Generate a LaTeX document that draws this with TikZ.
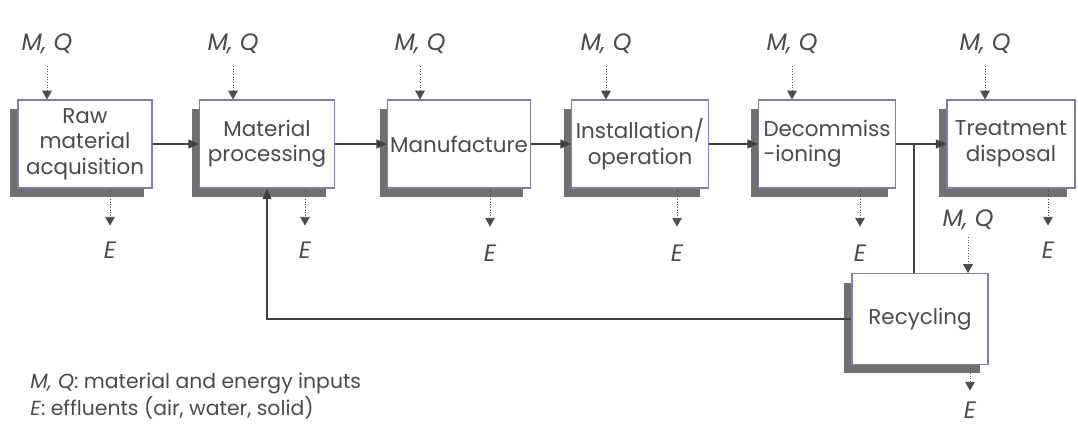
\documentclass[tikz,border=0pt]{standalone}
\usepackage{fontspec}
\setmainfont{Poppins}
\usepackage{xcolor}
\definecolor{boxEdge}{RGB}{125,125,175}
\definecolor{txtGrey}{RGB}{75,75,75}
\definecolor{shadeGrey}{RGB}{112,112,112}
\usepackage{tikz}
\usetikzlibrary{positioning,arrows.meta,shadows}

\begin{document}
\begin{tikzpicture}[x=0.02cm, y=-0.02cm,
  box/.style={draw=boxEdge, fill=white, line width=0.6pt, minimum height=1.76cm,
              font=\fontsize{12.2}{14.5}\selectfont, text=txtGrey, align=center, inner sep=1.5pt,
              drop shadow={shadow xshift=-0.16cm, shadow yshift=-0.18cm, opacity=1, fill=shadeGrey}},
  arr/.style={-{Triangle[length=6pt,width=5pt]}, line width=0.7pt, draw=black!75},
  line/.style={line width=0.7pt, draw=black!75},
  io/.style={-{Triangle[length=5pt,width=5.5pt]}, densely dotted, line width=0.5pt, draw=black!70},
  lab/.style={font=\fontsize{13.5}{15}\selectfont\itshape, text=txtGrey, inner sep=1pt},
  legend/.style={font=\fontsize{11.6}{12.5}\selectfont, text=txtGrey, align=left, inner sep=0pt}
]
\useasboundingbox (0,0) rectangle (1078,428);

%% process chain
\node[box, minimum width=2.68cm] (raw) at (85,144)   {Raw\\material\\acquisition};
\node[box, minimum width=2.70cm] (proc) at (267,144) {Material\\processing};
\node[box, minimum width=2.86cm] (manu) at (459,144) {Manufacture};
\node[box, minimum width=2.74cm] (inst) at (640,144) {Installation/\\operation};
\node[box, minimum width=2.74cm, align=left] (deco) at (827,144) {Decommiss\\-ioning};
\node[box, minimum width=2.56cm] (treat) at (1011,144) {Treatment\\disposal};
\node[box, minimum width=2.72cm, minimum height=1.82cm] (recy) at (920,319) {Recycling};
\coordinate (split) at (914,144);

\draw[arr] (raw) -- (proc);
\draw[arr] (proc) -- (manu);
\draw[arr] (manu) -- (inst);
\draw[arr] (inst) -- (deco);
\draw[line] (deco) -- (split);
\draw[arr] (split) -- (treat);
\draw[line] (split) -- (split |- recy.north);
\draw[arr] (recy.west) -| (proc.south);

%% inputs M, Q
\node[lab] (mq1) at (47,44)  {M, Q};
\node[lab] (mq2) at (233,44) {M, Q};
\node[lab] (mq3) at (420,44) {M, Q};
\node[lab] (mq4) at (606,44) {M, Q};
\node[lab] (mq5) at (792,44) {M, Q};
\node[lab] (mq6) at (985,44) {M, Q};
\node[lab] (mq7) at (968,220) {M, Q};
\draw[io, shorten <=0.2cm] (mq1) -- (mq1 |- raw.north);
\draw[io, shorten <=0.2cm] (mq2) -- (mq2 |- proc.north);
\draw[io, shorten <=0.2cm] (mq3) -- (mq3 |- manu.north);
\draw[io, shorten <=0.2cm] (mq4) -- (mq4 |- inst.north);
\draw[io, shorten <=0.2cm] (mq5) -- (mq5 |- deco.north);
\draw[io, shorten <=0.2cm] (mq6) -- (mq6 |- treat.north);
\draw[io, shorten <=0.1cm] (mq7) -- (mq7 |- recy.north);

%% effluents E
\node[lab] (e1) at (110,250) {E};
\node[lab] (e2) at (305,250) {E};
\node[lab] (e3) at (490,253) {E};
\node[lab] (e4) at (677,253) {E};
\node[lab] (e5) at (860,253) {E};
\node[lab] (e6) at (1048,250) {E};
\node[lab] (e7) at (970,410) {E};
\draw[io, shorten >=0.28cm] (e1 |- raw.south) -- (e1);
\draw[io, shorten >=0.28cm] (e2 |- proc.south) -- (e2);
\draw[io, shorten >=0.32cm] (e3 |- manu.south) -- (e3);
\draw[io, shorten >=0.32cm] (e4 |- inst.south) -- (e4);
\draw[io, shorten >=0.32cm] (e5 |- deco.south) -- (e5);
\draw[io, shorten >=0.28cm] (e6 |- treat.south) -- (e6);
\draw[io, shorten >=0.18cm] (e7 |- recy.south) -- (e7);

%% key
\node[legend, anchor=west] (key) at (30,396) {\textit{M, Q}: material and energy inputs\\\textit{E}: effluents (air, water, solid)};
\end{tikzpicture}
\end{document}
